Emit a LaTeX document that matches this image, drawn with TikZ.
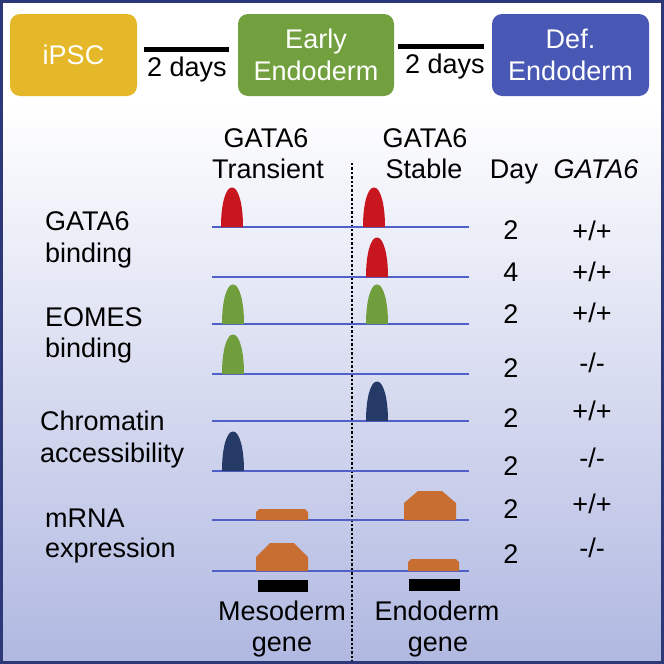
\documentclass[tikz,border=0pt]{standalone}
\usepackage{fontspec}
\setmainfont{Liberation Sans}
\usetikzlibrary{calc}
\definecolor{ipscY}{RGB}{228,184,40}
\definecolor{earlyG}{RGB}{114,160,62}
\definecolor{defB}{RGB}{72,88,180}
\definecolor{redpk}{RGB}{200,22,30}
\definecolor{greenpk}{RGB}{113,158,60}
\definecolor{navypk}{RGB}{38,58,104}
\definecolor{orng}{RGB}{200,110,50}
\definecolor{trackB}{RGB}{80,96,200}
\definecolor{bordB}{RGB}{45,56,120}
\definecolor{bgB}{RGB}{176,184,225}
\definecolor{bgMid}{RGB}{210,215,238}
\newcommand\gpk[3]{%
  \fill[#3] (#1,#2) .. controls (#1,#2-23) and (#1+4.5,#2-39.5) .. (#1+11,#2-39.5)
     .. controls (#1+17.5,#2-39.5) and (#1+22,#2-23) .. (#1+22,#2) -- cycle;}
\newcommand\mrn[6]{%
  \fill[orng] (#1,#3) -- (#1,#4+#6) -- (#1+#5,#4) -- (#2-#5,#4) -- (#2,#4+#6) -- (#2,#3) -- cycle;}
\begin{document}
\begin{tikzpicture}[x=1pt,y=-1pt,
  txt/.style={font=\fontsize{27}{31}\selectfont, inner sep=0pt, anchor=base},
  ltxt/.style={txt, anchor=base west},
  stagebox/.style={rounded corners=10pt, inner sep=0pt, minimum height=82pt, text=white,
     align=center, font=\fontsize{27}{32}\selectfont},
  link/.style={line width=5pt, black},
  track/.style={trackB, line width=1.3pt},
  divider/.style={black, line width=2.4pt, dash pattern=on 2.4pt off 2pt},
]
\useasboundingbox (0,0) rectangle (664,664);
\fill[white] (0,0) rectangle (664,664);
\shade[top color=white, middle color=bgMid, bottom color=bgB] (0,105) rectangle (664,664);

% stages
\node[stagebox, fill=ipscY, minimum width=127pt] (ipsc) at (73.5,55) {iPSC};
\node[stagebox, fill=earlyG, minimum width=156pt] (early) at (316,55) {Early\\Endoderm};
\node[stagebox, fill=defB, minimum width=157pt] (def) at (570.5,55) {Def.\\Endoderm};
\draw[link] ($(ipsc.east)+(7,-6)$) -- ($(early.west)+(-9,-6)$);
\draw[link] ($(early.east)+(4,-9)$) -- ($(def.west)+(-8,-9)$);
\node[txt] (d1) at (187,76) {2 days};
\node[txt] (d2) at (445,73) {2 days};

% headers
\node[txt] (h1a) at (266,147) {GATA6};
\node[txt] (h1b) at (268,178) {Transient};
\node[txt] (h2a) at (425,147) {GATA6};
\node[txt] (h2b) at (424,178) {Stable};
\node[txt] (hday) at (514,178) {Day};
\node[txt] (hgen) at (596,178) {\itshape GATA6};

% divider
\coordinate (dtop) at (352,163);
\coordinate (dbot) at (352,661);
\draw[divider] (dtop) -- (dbot);

% left labels
\node[ltxt] (l1a) at (45,230) {GATA6};
\node[ltxt] (l1b) at (45,262) {binding};
\node[ltxt] (l2a) at (45,326) {EOMES};
\node[ltxt] (l2b) at (45,357) {binding};
\node[ltxt] (l3a) at (40,430) {Chromatin};
\node[ltxt] (l3b) at (40,462) {accessibility};
\node[ltxt] (l4a) at (45,527) {mRNA};
\node[ltxt] (l4b) at (45,557) {expression};

% tracks
\foreach \yy in {227,277,324,374,421,471,520,571}
  \draw[track] (212,\yy) -- (469,\yy);

% peaks
\gpk{221}{227}{redpk}
\gpk{363}{227}{redpk}
\gpk{366}{277}{redpk}
\gpk{222}{324}{greenpk}
\gpk{366}{324}{greenpk}
\gpk{222}{374}{greenpk}
\gpk{366}{421}{navypk}
\gpk{222}{471}{navypk}

% mRNA
\mrn{256}{308}{520}{509}{3}{3}
\mrn{404}{456}{520}{491}{14}{12}
\mrn{256}{308}{571}{543}{14}{14}
\mrn{408}{459}{571}{559}{3}{3}

% gene bars
\fill[black] (258,580) rectangle (308,592);
\fill[black] (409,579) rectangle (460,591);
\node[txt] (g1a) at (282,620) {Mesoderm};
\node[txt] (g1b) at (282,651) {gene};
\node[txt] (g2a) at (437,620) {Endoderm};
\node[txt] (g2b) at (438,651) {gene};

% day / genotype columns
\foreach \n/\dd/\yd/\gg/\yg in {1/2/239/+\slash+/240, 2/4/281/+\slash+/281, 3/2/323/+\slash+/322,
   4/2/377/-\slash-/372, 5/2/427/+\slash+/420, 6/2/475/-\slash-/467, 7/2/518/+\slash+/513, 8/2/563/-\slash-/557}{
  \node[txt] (day\n) at (511,\yd) {\dd};
  \node[txt] (gen\n) at (592,\yg) {\gg};
}

% border
\draw[bordB, line width=3pt] (1.5,1.5) rectangle (662.5,662.5);
\end{tikzpicture}
\end{document}
